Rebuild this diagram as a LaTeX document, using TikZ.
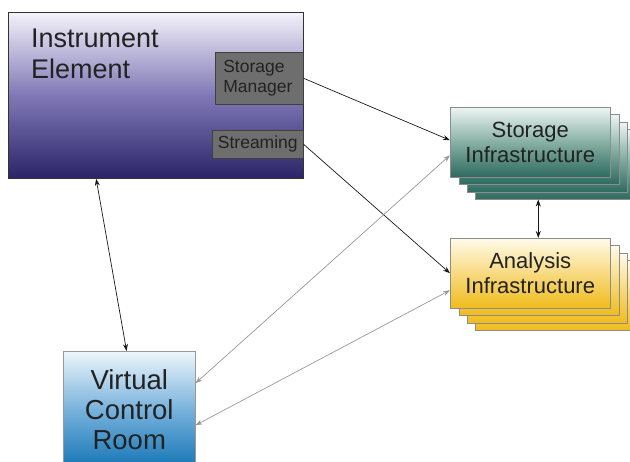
\documentclass[tikz,border=0pt]{standalone}
\usepackage{fontspec}
\setmainfont{Liberation Sans}
\usetikzlibrary{arrows.meta,calc}
\definecolor{ieTop}{HTML}{F4F2FA}
\definecolor{ieMid}{HTML}{8078B6}
\definecolor{ieBot}{HTML}{2A2468}
\definecolor{siTop}{HTML}{EEF6F4}
\definecolor{siMid}{HTML}{86B0A4}
\definecolor{siBot}{HTML}{2E6A5E}
\definecolor{aiTop}{HTML}{FFFBEA}
\definecolor{aiMid}{HTML}{F8DA80}
\definecolor{aiBot}{HTML}{F0BC1C}
\definecolor{vcTop}{HTML}{EEF6FC}
\definecolor{vcMid}{HTML}{78B2DC}
\definecolor{vcBot}{HTML}{1676B6}
\definecolor{subfill}{HTML}{6E6E6E}
\definecolor{txt}{HTML}{222222}
\begin{document}
\begin{tikzpicture}[x=1pt,y=-1pt,
  every node/.style={text=txt},
  iebox/.style={draw=black!80, line width=0.8pt, minimum width=295pt, minimum height=166pt, anchor=north west,
    top color=ieTop, bottom color=ieBot, middle color=ieMid},
  subbox/.style={draw=black!75, line width=0.6pt, fill=subfill, anchor=north west, font=\fontsize{17.5}{20}\selectfont, inner sep=0pt},
  sibox/.style={draw=black!45, line width=0.5pt, minimum width=160pt, minimum height=70pt, anchor=north west,
    top color=siTop, bottom color=siBot, middle color=siMid, align=center, font=\fontsize{22}{25}\selectfont},
  aibox/.style={draw=black!45, line width=0.5pt, minimum width=160pt, minimum height=70pt, anchor=north west,
    top color=aiTop, bottom color=aiBot, middle color=aiMid, align=center, font=\fontsize{22}{25}\selectfont},
  vcbox/.style={draw=black!40, line width=0.5pt, minimum width=132pt, minimum height=116pt, anchor=north west,
    top color=vcTop, bottom color=vcBot, middle color=vcMid, align=center, font=\fontsize{27.5}{30}\selectfont},
  blk/.style={draw=black!90, line width=0.7pt, {Stealth[length=7pt,width=5pt]}-{Stealth[length=7pt,width=5pt]}},
  blkone/.style={draw=black!90, line width=0.7pt, -{Stealth[length=7pt,width=5pt]}},
  gry/.style={draw=black!40, line width=0.7pt, {Stealth[length=7pt,width=5pt]}-{Stealth[length=7pt,width=5pt]}}
]
\useasboundingbox (0,0) rectangle (630,462);
\fill[white] (0,0) rectangle (630,462);

% Instrument Element
\node[iebox] (ie) at (8,12) {};
\node[anchor=north west, align=left, inner sep=0pt, font=\fontsize{27}{31}\selectfont] (ielabel) at (31,29) {Instrument\\Element};
\node[subbox, minimum width=88pt, minimum height=52pt, align=left, text width=72pt] (sm) at (215,52) {Storage\\Manager};
\node[subbox, minimum width=91pt, minimum height=28pt] (st) at (212,130) {Streaming};

% Storage Infrastructure stack
\node[sibox] (si3) at (475,129) {};
\node[sibox] (si2) at (467,122) {};
\node[sibox] (si1) at (459,114) {};
\node[sibox] (si) at (450,107) {Storage\\Infrastructure};

% Analysis Infrastructure stack
\node[aibox] (ai3) at (475,260) {};
\node[aibox] (ai2) at (467,253) {};
\node[aibox] (ai1) at (459,245) {};
\node[aibox] (ai) at (450,238) {Analysis\\Infrastructure};

% Virtual Control Room
\node[vcbox] (vc) at (63,351) {Virtual\\Control\\Room};

% Connectors
\coordinate (mx) at ($(si.south west)!0.55!(si.south east)$);
\coordinate (a1) at (mx |- si3.south);
\coordinate (a2) at (mx |- ai.north);
\draw[blkone] (sm.east) -- ([yshift=2pt]si.west);
\draw[blkone] (st.east) -- (ai.west);
\draw[blk] ($(ie.south west)!0.298!(ie.south east)$) -- ($(vc.north west)!0.48!(vc.north east)$);
\draw[blk] (a1) -- (a2);
\draw[gry] ([yshift=26pt]vc.east) -- ([yshift=-13pt]si.west);
\draw[gry] ([yshift=-16pt]vc.east) -- ([yshift=-17pt]ai.west);
\end{tikzpicture}
\end{document}
